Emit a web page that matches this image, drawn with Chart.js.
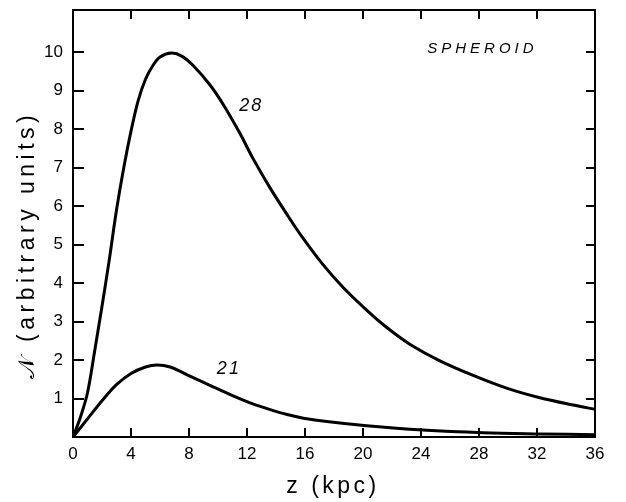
<!DOCTYPE html>
<html><head><meta charset="utf-8">
<script src="https://cdn.jsdelivr.net/npm/chart.js@4/dist/chart.umd.min.js"></script>
<style>html,body{margin:0;padding:0;background:#fff}#wrap{width:626px;height:502px}</style>
</head><body><div id="wrap"><canvas id="c" width="626" height="502"></canvas></div>
<script>
// Data
const z28 = [0,0.5,1.0,1.5,2.0,2.5,3.0,3.5,4.0,4.5,5.0,5.5,6.0,6.8,7.5,8.3,9.45,10.35,11.5,12.4,13.6,14.7,15.8,17.2,18.6,20.25,21.6,23.2,25.2,27.6,29.9,32.2,34.5,36];
const n28 = [0,0.5,1.15,2.25,3.4,4.6,5.9,7.0,7.95,8.75,9.3,9.65,9.88,9.98,9.9,9.65,9.15,8.65,7.9,7.25,6.47,5.82,5.2,4.5,3.9,3.3,2.86,2.42,2.0,1.6,1.27,1.02,0.83,0.72];
const z21 = [0,1,2,3,4,5,5.8,6.7,7.8,9,10.1,11.3,12.4,13.6,14.7,15.9,17.5,20.25,24.1,28.3,32.2,36];
const n21 = [0,0.47,0.94,1.36,1.65,1.82,1.87,1.82,1.63,1.42,1.23,1.03,0.86,0.71,0.59,0.49,0.40,0.29,0.18,0.11,0.08,0.06];
const xTickVals = [0,4,8,12,16,20,24,28,32,36];
const yTickVals = [1,2,3,4,5,6,7,8,9,10];
const curveLabels = [{text:'28', z:12.3, n:8.6}, {text:'21', z:10.75, n:1.76}];
const panelLabel = {text:'SPHEROID', z:28.1, n:10.1};
const xTitle = 'z (kpc)';
const yTitle = '\u{1D4A9} (arbitrary units)';

const pts = (xs, ys) => xs.map((v,i)=>({x:v, y:ys[i]}));
const FONT = '"Liberation Sans", "DejaVu Sans", sans-serif';

const deco = {
  id:'deco',
  afterDraw(chart){
    const ctx = chart.ctx, xs = chart.scales.x, ys = chart.scales.y, ca = chart.chartArea;
    ctx.save();
    ctx.strokeStyle = '#000'; ctx.lineWidth = 2;
    ctx.strokeRect(ca.left, ca.top, ca.right-ca.left, ca.bottom-ca.top);
    ctx.beginPath();
    xTickVals.forEach(v=>{
      if (v===xTickVals[0] || v===xTickVals[xTickVals.length-1]) return;
      const p = Math.round(xs.getPixelForValue(v));
      ctx.moveTo(p, ca.bottom); ctx.lineTo(p, ca.bottom-9);
      ctx.moveTo(p, ca.top); ctx.lineTo(p, ca.top+9);
    });
    yTickVals.forEach(v=>{
      const p = Math.round(ys.getPixelForValue(v));
      ctx.moveTo(ca.left, p); ctx.lineTo(ca.left+11, p);
      ctx.moveTo(ca.right, p); ctx.lineTo(ca.right-9, p);
    });
    ctx.stroke();
    ctx.fillStyle = '#000';
    ctx.textAlign = 'center'; ctx.textBaseline = 'middle';
    ctx.font = 'italic 18px ' + FONT;
    ctx.letterSpacing = '2px';
    curveLabels.forEach(l=>ctx.fillText(l.text, xs.getPixelForValue(l.z), ys.getPixelForValue(l.n)));
    ctx.font = 'italic 15px ' + FONT;
    ctx.letterSpacing = '4px';
    ctx.fillText(panelLabel.text, xs.getPixelForValue(panelLabel.z)+2, ys.getPixelForValue(panelLabel.n));
    ctx.font = '23px ' + FONT;
    ctx.letterSpacing = '3.5px';
    ctx.fillText(xTitle, 333, 487);
    ctx.translate(28, 245); ctx.rotate(-Math.PI/2);
    ctx.font = '23px ' + FONT;
    ctx.letterSpacing = '4.5px';
    ctx.fillText(yTitle, 0, 0);
    ctx.restore();
  }
};

new Chart(document.getElementById('c'), {
  type:'scatter',
  data:{datasets:[
    {data:pts(z28,n28), showLine:true, borderColor:'#000', borderWidth:3, pointRadius:0, tension:0.35, fill:false},
    {data:pts(z21,n21), showLine:true, borderColor:'#000', borderWidth:3, pointRadius:0, tension:0.35, fill:false}
  ]},
  options:{
    responsive:false, animation:false, devicePixelRatio:1,
    layout:{padding:{top:10, right:31, left:0, bottom:0}},
    plugins:{legend:{display:false}, tooltip:{enabled:false}},
    scales:{
      x:{type:'linear', min:0, max:36,
        afterBuildTicks(s){ s.ticks = xTickVals.map(v=>({value:v})); },
        afterFit(s){ s.height = 65; s.paddingLeft = 0; s.paddingRight = 0; },
        grid:{display:false, drawTicks:false}, border:{display:false},
        ticks:{padding:7, color:'#000', font:{family:FONT, size:17}, maxRotation:0, autoSkip:false}
      },
      y:{type:'linear', min:0, max:11.1,
        afterBuildTicks(s){ s.ticks = yTickVals.map(v=>({value:v})); },
        afterFit(s){ s.width = 73; s.paddingTop = 0; s.paddingBottom = 0; },
        grid:{display:false, drawTicks:false}, border:{display:false},
        ticks:{padding:10, color:'#000', font:{family:FONT, size:17}, autoSkip:false}
      }
    }
  },
  plugins:[deco]
});
</script></body></html>
